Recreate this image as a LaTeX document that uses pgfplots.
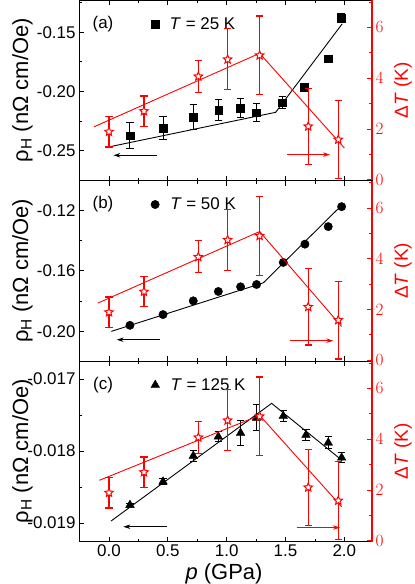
\documentclass[border=0pt]{standalone}
\usepackage{fontspec}
\setmainfont{Liberation Sans}
\usepackage{pgfplots}
\pgfplotsset{compat=1.18}
\usetikzlibrary{arrows.meta}

\pgfdeclareplotmark{ostar}{%
  \pgfpathmoveto{\pgfpointpolar{90}{\pgfplotmarksize}}%
  \pgfpathlineto{\pgfpointpolar{126}{0.45\pgfplotmarksize}}%
  \pgfpathlineto{\pgfpointpolar{162}{\pgfplotmarksize}}%
  \pgfpathlineto{\pgfpointpolar{198}{0.45\pgfplotmarksize}}%
  \pgfpathlineto{\pgfpointpolar{234}{\pgfplotmarksize}}%
  \pgfpathlineto{\pgfpointpolar{270}{0.45\pgfplotmarksize}}%
  \pgfpathlineto{\pgfpointpolar{306}{\pgfplotmarksize}}%
  \pgfpathlineto{\pgfpointpolar{342}{0.45\pgfplotmarksize}}%
  \pgfpathlineto{\pgfpointpolar{18}{\pgfplotmarksize}}%
  \pgfpathlineto{\pgfpointpolar{54}{0.45\pgfplotmarksize}}%
  \pgfpathclose
  \pgfusepathqfillstroke
}

\pgfplotstableread{
p dT e
0.000 1.89 0.60
0.297 2.70 0.60
0.759 4.07 0.63
1.008 4.74 1.20
1.280 4.90 1.55
1.693 2.10 1.50
1.948 1.58 1.53
}\dTtable

\pgfplotstableread{
p r e
0.178 -0.2374 0.0107
0.459 -0.2309 0.0100
0.716 -0.2216 0.0105
0.932 -0.2157 0.0087
1.118 -0.2143 0.0080
1.254 -0.2180 0.0074
1.475 -0.2095 0.0048
1.656 -0.1963 0.0030
1.863 -0.1724 0.0000
1.971 -0.1381 0.0040
}\tableA

\pgfplotstableread{
p r
0.178 -0.1961
0.459 -0.1890
0.716 -0.1799
0.929 -0.1737
1.118 -0.1706
1.254 -0.1691
1.481 -0.1545
1.665 -0.1424
1.863 -0.1308
1.977 -0.1176
}\tableB

\pgfplotstableread{
p r e
0.178 -0.018750 0.00002
0.459 -0.018426 0.00004
0.716 -0.018069 0.00008
0.929 -0.017801 0.00007
1.118 -0.017750 0.00018
1.254 -0.017540 0.00018
1.481 -0.017514 0.00008
1.674 -0.017778 0.00008
1.863 -0.017885 0.00008
1.977 -0.018093 0.00007
}\tableC

\pgfplotsset{
  common/.style={scale only axis, width=293bp, height=180.5bp,
    xmin=-0.255, xmax=2.235, tick align=inside,
    major tick length=5bp, minor tick length=3bp,
    scaled y ticks=false, scaled x ticks=false,
    ticklabel style={font=\fontsize{17}{20}\selectfont},
    label style={font=\fontsize{22}{25}\selectfont}},
  panel/.style={common,
    axis line style={line width=0.9bp},
    every tick/.style={black, line width=0.8bp},
    xtick={0,0.5,1,1.5,2}, minor xtick={0.25,0.75,1.25,1.75},
    xticklabels={0.0,0.5,1.0,1.5,2.0},
    xtick pos=both, xticklabel pos=lower, ytick pos=left,
    ylabel={ρ\textsubscript{H} (nΩ cm/Oe)},
    ylabel style={at={(axis description cs:-0.193,0.5)}, anchor=center},
    legend style={draw=none, fill=none, at={(axis description cs:0.238,0.867)},
      anchor=west, font=\fontsize{17}{20}\selectfont, column sep=9bp, inner sep=2bp}},
  twin/.style={common, axis x line=none, axis y line*=right,
    axis line style={red, line width=1.2bp},
    every tick/.style={red, line width=0.8bp},
    ymin=-0.03, ymax=7.08, ytick={0,2,4,6}, minor ytick={1,3,5,7},
    yticklabel style={red},
    ylabel={Δ\textit{T} (K)},
    ylabel style={red, font=\fontsize{19}{22}\selectfont, at={(axis description cs:1.106,0.5)}, anchor=center}},
  blk/.style={black, line width=0.9bp},
  stars/.style={red, only marks, mark=ostar, mark size=4.5bp,
    mark options={draw=red, fill=white, line width=1bp},
    /pgfplots/error bars/y dir=both, /pgfplots/error bars/y explicit,
    /pgfplots/error bars/error bar style={red, line width=1.1bp},
    /pgfplots/error bars/error mark options={rotate=90, red, mark size=3.6bp, line width=1.1bp}},
  errblk/.style={
    /pgfplots/error bars/y dir=both, /pgfplots/error bars/y explicit,
    /pgfplots/error bars/error bar style={black, line width=1bp},
    /pgfplots/error bars/error mark options={rotate=90, black, mark size=3.6bp, line width=1bp}},
  redline/.style={red, line width=0.9bp},
}

\begin{document}
\begin{tikzpicture}
% ---------------- panel (a)
\begin{axis}[panel, at={(0,0)}, anchor=north west,
  ymin=-0.2753, ymax=-0.1228,
  ytick={-0.25,-0.20,-0.15}, yticklabels={-0.25,-0.20,-0.15},
  minor ytick={-0.275,-0.225,-0.175,-0.125},
  xticklabels={}]
\addplot[blk, forget plot] coordinates {(0.0,-0.2469) (1.416,-0.2177) (1.982,-0.1429)};
\addplot[forget plot, black, only marks, mark=square*, mark size=3.9bp, errblk]
  table[x=p, y=r, y error=e] {\tableA};
\draw[black, line width=0.9bp, -{Stealth[length=7bp,width=4.5bp]}] (axis cs:0.405,-0.254) -- (axis cs:0.037,-0.254);
\node[font=\fontsize{17}{20}\selectfont] at (axis description cs:0.082,0.867) {(a)};
\addlegendimage{black, only marks, mark=square*, mark size=3.9bp}
\addlegendentry{\textit{T} = 25 K}
\end{axis}
\begin{axis}[twin, at={(0,0)}, anchor=north west]
\addplot[redline] coordinates {(-0.125,2.09) (1.28,4.98) (2.0,1.25)};
\addplot[stars] table[x=p, y=dT, y error=e] {\dTtable};
\draw[red, line width=0.9bp, -{Stealth[length=7bp,width=4.5bp]}] (axis cs:1.515,0.99) -- (axis cs:1.878,0.99);
\end{axis}
% ---------------- panel (b)
\begin{axis}[panel, at={(0,-180.5bp)}, anchor=north west,
  ymin=-0.2197, ymax=-0.1003,
  ytick={-0.20,-0.16,-0.12}, yticklabels={-0.20,-0.16,-0.12},
  minor ytick={-0.22,-0.18,-0.14,-0.10},
  xticklabels={}]
\addplot[blk, forget plot] coordinates {(0.02,-0.2001) (1.311,-0.168) (1.977,-0.1167)};
\addplot[forget plot, black, only marks, mark=*, mark size=4.2bp]
  table[x=p, y=r] {\tableB};
\draw[black, line width=0.9bp, -{Stealth[length=7bp,width=4.5bp]}] (axis cs:0.433,-0.2056) -- (axis cs:0.065,-0.2056);
\node[font=\fontsize{17}{20}\selectfont] at (axis description cs:0.082,0.867) {(b)};
\addlegendimage{black, only marks, mark=*, mark size=4.2bp}
\addlegendentry{\textit{T} = 50 K}
\end{axis}
\begin{axis}[twin, at={(0,-180.5bp)}, anchor=north west]
\addplot[redline] coordinates {(-0.096,2.25) (1.28,5.07) (1.977,1.33)};
\addplot[stars] table[x=p, y=dT, y error=e] {\dTtable};
\draw[red, line width=0.9bp, -{Stealth[length=7bp,width=4.5bp]}] (axis cs:1.538,0.77) -- (axis cs:1.906,0.77);
\end{axis}
% ---------------- panel (c)
\begin{axis}[panel, at={(0,-361bp)}, anchor=north west,
  ymin=-0.019256, ymax=-0.01675,
  ytick={-0.019,-0.018,-0.017}, yticklabels={-0.019,-0.018,-0.017},
  minor ytick={-0.0185,-0.0175},
  xlabel={\textit{p} (GPa)},
  xlabel style={at={(axis description cs:0.495,-0.178)}, anchor=center}]
\addplot[blk, forget plot] coordinates {(0.017,-0.018972) (1.382,-0.017338) (1.977,-0.018125)};
\addplot[forget plot, black, only marks, mark=triangle*, mark size=5bp, errblk]
  table[x=p, y=r, y error=e] {\tableC};
\draw[black, line width=0.9bp, -{Stealth[length=7bp,width=4.5bp]}] (axis cs:0.49,-0.019051) -- (axis cs:0.122,-0.019051);
\node[font=\fontsize{17}{20}\selectfont] at (axis description cs:0.082,0.867) {(c)};
\addlegendimage{black, only marks, mark=triangle*, mark size=5bp}
\addlegendentry{\textit{T} = 125 K}
\end{axis}
\begin{axis}[twin, at={(0,-361bp)}, anchor=north west]
\addplot[redline] coordinates {(-0.082,2.38) (1.28,4.94) (1.977,1.34)};
\addplot[stars] table[x=p, y=dT, y error=e] {\dTtable};
\draw[red, line width=0.9bp, -{Stealth[length=7bp,width=4.5bp]}] (axis cs:1.595,0.52) -- (axis cs:1.963,0.52);
\end{axis}
\pgfresetboundingbox
\path[use as bounding box] (-79bp,0bp) rectangle (336bp,-584bp);
\end{tikzpicture}
\end{document}
